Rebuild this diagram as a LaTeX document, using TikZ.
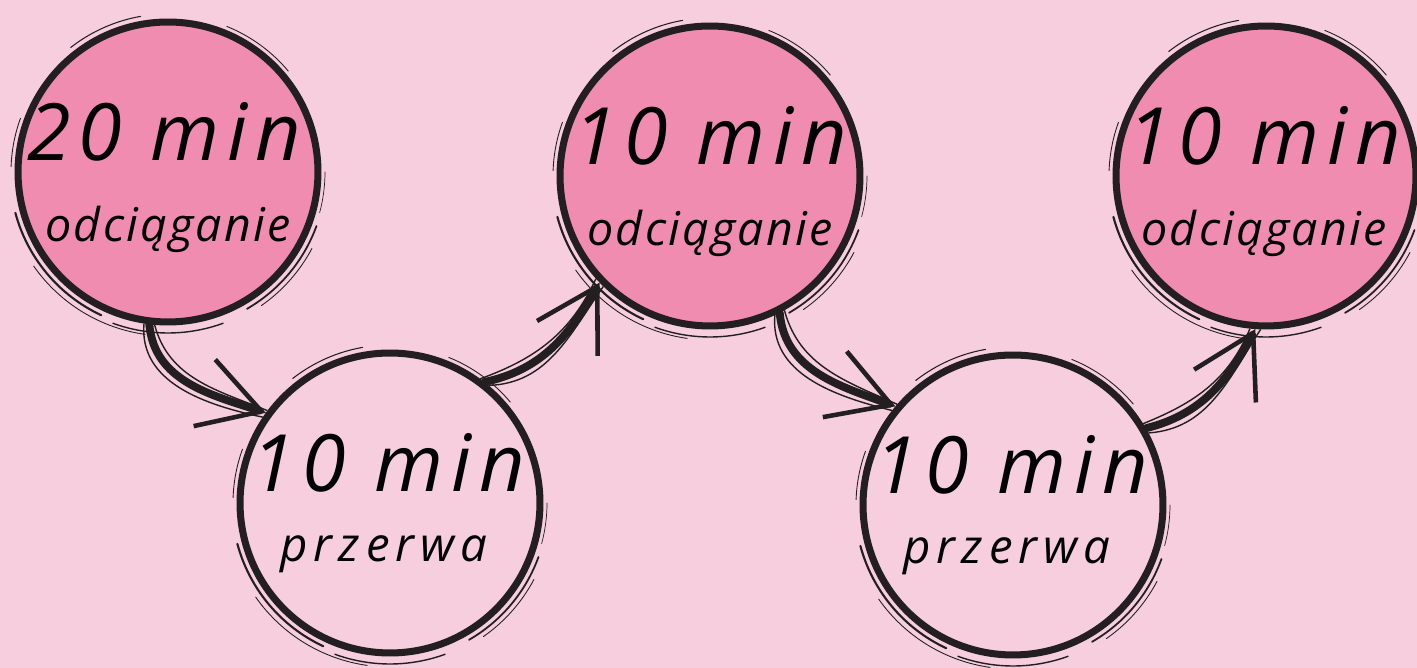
\documentclass[tikz,border=0pt]{standalone}
\usepackage{fontspec}
\usetikzlibrary{arrows.meta}
\newfontfamily\handfont[LetterSpace=5]{Open Sans}
\newfontfamily\widehandfont[LetterSpace=13]{Open Sans}
\newfontfamily\bighandfont[LetterSpace=10]{Open Sans}

\definecolor{bgpink}{RGB}{246,206,222}
\definecolor{pumppink}{RGB}{240,140,176}
\definecolor{ink}{RGB}{35,31,32}

% brush strokes round a ring
\newcommand{\roughring}[1]{%
  \draw[ink, line width=1.6pt] ([shift={(200:151)}]#1.center) arc[start angle=200, end angle=340, radius=151];
  \foreach \a/\b/\r/\w in {195/245/158/1.2, 250/290/161/0.8, 215/262/164/0.5,
                           300/340/158/1.0, 305/332/163/0.5, 100/128/158/0.6,
                           40/68/157/0.5, 160/178/157/0.5, 345/360/157/0.4}{%
    \draw[ink, line width=\w pt, line cap=round]
      ([shift={(\a:\r)}]#1.center) arc[start angle=\a, end angle=\b, radius=\r];}}

\begin{document}
\begin{tikzpicture}[x=0.02cm,y=0.02cm,
    ring/.style={circle,draw=ink,line width=4pt,minimum size=6cm,inner sep=0pt},
    pump node/.style={ring,fill=pumppink},
    rest node/.style={ring,fill=bgpink},
    time text/.style={anchor=base,inner sep=0pt,font=\bighandfont\itshape\fontsize{45}{50}\selectfont},
    word text/.style={anchor=base,inner sep=0pt,font=\handfont\itshape\fontsize{26.5}{30}\selectfont},
    rest text/.style={word text,font=\widehandfont\itshape\fontsize{27}{30}\selectfont},
    flow/.style={draw=ink,line width=4.5pt,line cap=round,
                 -{Straight Barb[length=1.2cm,width=1.4cm,line width=2.6pt]}},
    hair/.style={draw=ink,line width=0.8pt}]
  \fill[bgpink] (0,0) rectangle (1417,668);
  \useasboundingbox (0,0) rectangle (1417,668);

  \node[pump node] (t1) at (168,496) {};
  \node[rest node] (b1) at (390,165) {};
  \node[pump node] (t2) at (710,492) {};
  \node[rest node] (b2) at (1013,163) {};
  \node[pump node] (t3) at (1266,492) {};

  \roughring{t1} \roughring{b1} \roughring{t2} \roughring{b2} \roughring{t3}

  \node[time text] (t1time) at ([shift={(-4,11)}]t1.center) {20 min};
  \node[word text] (t1word) at ([shift={(0,-70)}]t1.center) {odciąganie};
  \node[time text] (b1time) at ([shift={(-2,11)}]b1.center) {10 min};
  \node[rest text] (b1word) at ([shift={(-6,-59)}]b1.center) {przerwa};
  \node[time text] (t2time) at ([shift={(0,11)}]t2.center) {10 min};
  \node[word text] (t2word) at ([shift={(0,-70)}]t2.center) {odciąganie};
  \node[time text] (b2time) at ([shift={(-2,11)}]b2.center) {10 min};
  \node[rest text] (b2word) at ([shift={(-6,-59)}]b2.center) {przerwa};
  \node[time text] (t3time) at ([shift={(-2,11)}]t3.center) {10 min};
  \node[word text] (t3word) at ([shift={(-2,-70)}]t3.center) {odciąganie};

  \path
    (t1.263) edge [flow,out=-85,in=162] (b1.144)
    (b1.52)  edge [flow,out=12,in=240]  (t2.224)
    (t2.297) edge [flow,out=-85,in=160] (b2.140)
    (b2.30)  edge [flow,out=14,in=242]  (t3.266);

  \path
    (t1.261) edge [hair,out=-95,in=168] (b1.146)
    (t1.265) edge [hair,out=-75,in=158] (b1.143)
    (b1.50)  edge [hair,out=2,in=235]   (t2.226)
    (b1.54)  edge [hair,out=20,in=245]  (t2.222)
    (t2.295) edge [hair,out=-95,in=166] (b2.142)
    (t2.299) edge [hair,out=-75,in=156] (b2.139)
    (b2.28)  edge [hair,out=4,in=237]   (t3.268)
    (b2.32)  edge [hair,out=22,in=247]  (t3.264);
\end{tikzpicture}
\end{document}
